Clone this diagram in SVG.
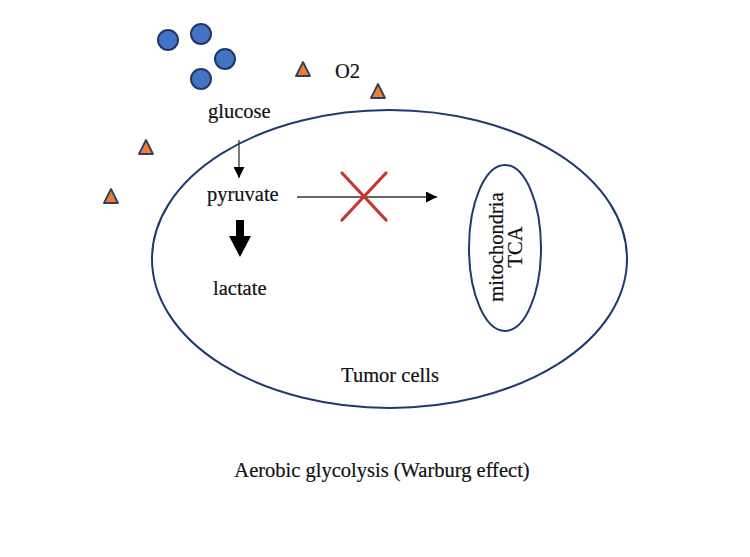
<svg xmlns="http://www.w3.org/2000/svg" width="750" height="557" viewBox="0 0 750 557">
<style>
text{font-family:"Liberation Serif","Times New Roman",serif;font-size:20.5px;fill:#111;stroke:#111;stroke-width:0.2}
.glc{fill:#4472C4;stroke:#203864;stroke-width:2}
.o2{fill:#ED7D31;stroke:#2F3F63;stroke-width:1.8;stroke-linejoin:round}
.mem{fill:none;stroke:#1F3A6B;stroke-width:2}
.ln{stroke:#333;stroke-width:1.3;fill:none}
.x{stroke:#C5372C;stroke-width:3.2;stroke-linecap:round}
</style>
<defs>
<marker id="ah" viewBox="0 0 10 10" refX="10" refY="5" markerWidth="11" markerHeight="11" markerUnits="userSpaceOnUse" orient="auto"><path d="M0,0L10,5L0,10Z" fill="#000"/></marker>
</defs>
<rect width="750" height="557" fill="#fff"/>
<g id="cell"><ellipse class="mem" cx="389.5" cy="259" rx="237.5" ry="149"/></g>
<g id="mitochondria"><ellipse class="mem" cx="505" cy="248" rx="36" ry="83"/>
<text transform="translate(503,247) rotate(-90)" text-anchor="middle">mitochondria</text>
<text transform="translate(522,247) rotate(-90)" text-anchor="middle">TCA</text></g>
<g id="glucose-molecules">
<circle class="glc" cx="168" cy="40" r="10"/>
<circle class="glc" cx="201" cy="34" r="10"/>
<circle class="glc" cx="225" cy="59" r="10"/>
<circle class="glc" cx="201" cy="79" r="10"/>
</g>
<g id="oxygen">
<path class="o2" d="M303,62L310,76L296,76Z"/>
<path class="o2" d="M378,84L385,98L371,98Z"/>
<path class="o2" d="M146,140L153,154L139,154Z"/>
<path class="o2" d="M111,189L118,203L104,203Z"/>
<text x="335" y="78">O2</text>
</g>
<g id="glucose"><text x="208" y="118">glucose</text></g>
<g id="pyruvate"><text x="207" y="201">pyruvate</text></g>
<g id="lactate"><text x="213" y="295">lactate</text></g>
<g id="tumor"><text x="390" y="382" text-anchor="middle">Tumor cells</text></g>
<g id="caption"><text x="382" y="477" text-anchor="middle">Aerobic glycolysis (Warburg effect)</text></g>
<g id="connectors">
<line class="ln" x1="239" y1="140" x2="239" y2="178" marker-end="url(#ah)"/>
<path d="M236,220H244V236H251L240,257L229,236H236Z" fill="#000"/>
<line class="ln" x1="297" y1="197" x2="437" y2="197" marker-end="url(#ah)"/>
<line class="x" x1="342" y1="173" x2="386" y2="220"/>
<line class="x" x1="342" y1="220" x2="386" y2="173"/>
</g>
</svg>
